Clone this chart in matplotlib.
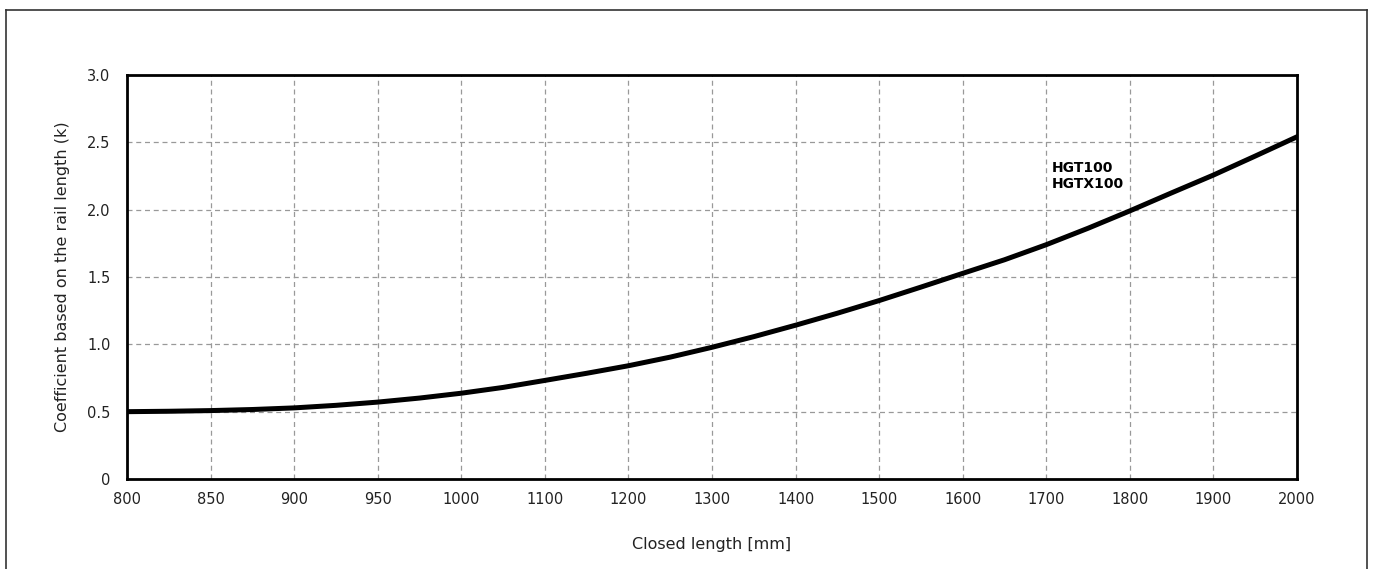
import numpy as np
import matplotlib.pyplot as plt
from matplotlib.lines import Line2D

# tick categories on the x axis (drawn evenly spaced)
tick_lengths = [800, 850, 900, 950, 1000, 1100, 1200, 1300, 1400, 1500, 1600, 1700, 1800, 1900, 2000]
# curve
closed_length = [800, 825, 850, 875, 900, 925, 950, 975, 1000, 1050, 1100, 1150, 1200, 1250, 1300,
                 1350, 1400, 1450, 1500, 1550, 1600, 1650, 1700, 1750, 1800, 1850, 1900, 1950, 2000]
k_values = [0.50, 0.503, 0.508, 0.516, 0.528, 0.547, 0.571, 0.601, 0.637, 0.680, 0.732, 0.785, 0.841,
            0.905, 0.978, 1.057, 1.142, 1.231, 1.325, 1.425, 1.527, 1.628, 1.740, 1.862, 1.991, 2.125,
            2.257, 2.398, 2.541]
y_ticks = [0, 0.5, 1.0, 1.5, 2.0, 2.5, 3.0]
y_labels = ['0', '0.5', '1.0', '1.5', '2.0', '2.5', '3.0']
series_label = 'HGT100\nHGTX100'

plt.rcParams['font.family'] = ['DejaVu Sans']

tick_idx = np.arange(len(tick_lengths))


def fwd(x):
    return np.interp(x, tick_lengths, tick_idx)


def inv(x):
    return np.interp(x, tick_idx, tick_lengths)


fig = plt.figure(figsize=(13.75, 5.69), dpi=100)
ax = fig.add_axes([127/1375, 90/569, 1170/1375, 404/569])
ax.set_xscale('function', functions=(fwd, inv))

ax.plot(closed_length, k_values, color='black', lw=3.6, solid_joinstyle='round', zorder=3)

ax.set_xlim(800, 2000)
ax.set_ylim(0, 3.0)
ax.set_xticks(tick_lengths)
ax.set_xticklabels([str(v) for v in tick_lengths])
ax.xaxis.set_minor_locator(plt.NullLocator())
ax.set_yticks(y_ticks)
ax.set_yticklabels(y_labels)
ax.tick_params(length=0, labelsize=10.5, colors='#222222')
ax.tick_params(axis='x', pad=9)
ax.tick_params(axis='y', pad=12)

ax.grid(True, color='#999999', linestyle=(0, (4, 3)), lw=0.9)
ax.set_axisbelow(True)
for s in ax.spines.values():
    s.set_linewidth(2)
    s.set_color('black')

ax.set_xlabel('Closed length [mm]', fontsize=11.5, color='#222222', labelpad=22)
ax.set_ylabel('Coefficient based on the rail length (k)', fontsize=11.5, color='#222222', labelpad=12)

ax.text(1707, 2.36, series_label, fontsize=10, fontweight='bold', ha='left', va='top',
        linespacing=1.2)

# outer frame
fc = '#333333'
fig.add_artist(Line2D([6/1375, 6/1375], [0, 1 - 10/569], transform=fig.transFigure, color=fc, lw=1.2))
fig.add_artist(Line2D([1367/1375, 1367/1375], [0, 1 - 10/569], transform=fig.transFigure, color=fc, lw=1.2))
fig.add_artist(Line2D([6/1375, 1367/1375], [1 - 10/569, 1 - 10/569], transform=fig.transFigure, color=fc, lw=1.2))

fig.savefig('out.png', dpi=100)
